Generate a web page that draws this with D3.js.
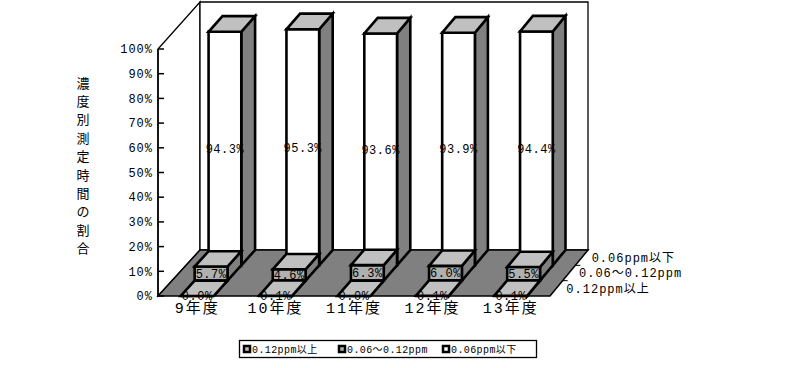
<!DOCTYPE html>
<html>
<head>
<meta charset="utf-8">
<script src="https://cdn.jsdelivr.net/npm/d3@7"></script>
<style>
  html, body { margin: 0; padding: 0; background: #fff; }
  text { font-family: "Liberation Mono", "Noto Sans CJK JP", monospace; fill: #000; }
</style>
</head>
<body>
<div id="chart"></div>
<script>
// ========== Data ==========
const categories = ["9年度", "10年度", "11年度", "12年度", "13年度"];
const seriesNames = ["0.12ppm以上", "0.06～0.12ppm", "0.06ppm以下"]; // front row -> back row
const over012 = [0.0, 0.1, 0.0, 0.1, 0.1];
const from006to012 = [5.7, 4.6, 6.3, 6.0, 5.5];
const under006 = [94.3, 95.3, 93.6, 93.9, 94.4];
const yTicks = [0, 10, 20, 30, 40, 50, 60, 70, 80, 90, 100];
const yTitle = "濃度別測定時間の割合";

const seriesValues = [over012, from006to012, under006];
const faceColors = [
  { front: "#c0c0c0", top: "#c0c0c0", side: "#808080", key: "#c0c0c0" },
  { front: "#b0b0b0", top: "#c0c0c0", side: "#808080", key: "#b0b0b0" },
  { front: "#ffffff", top: "#c0c0c0", side: "#808080", key: "#ffffff" },
];

// ========== Setup ==========
const width = 787;
const height = 368;

const svg = d3
  .select("#chart")
  .append("svg")
  .attr("width", width)
  .attr("height", height);

svg.append("rect").attr("width", width).attr("height", height).attr("fill", "#fff");

// unit position across categories, then projected front/back planes
const xUnit = d3.scaleBand().domain(categories).range([0, 1]).paddingInner(0.58).paddingOuter(0.29);
const xFront = d3.scaleLinear().domain([0, 1]).range([158, 550]);
const xBack = d3.scaleLinear().domain([0, 1]).range([200, 588]);
const yFront = d3.scaleLinear().domain([0, 100]).range([296, 49]);
const yBack = d3.scaleLinear().domain([0, 100]).range([250, 2]);
const zScale = d3.scaleBand().domain(seriesNames).range([0, 1]); // 0 = front, 1 = back

function proj(u, v, d) {
  return [
    xFront(u) + (xBack(u) - xFront(u)) * d,
    yFront(v) + (yBack(v) - yFront(v)) * d,
  ];
}
const poly = (pts) => "M" + pts.map((p) => p.join(",")).join("L") + "Z";

// ========== Walls & Floor ==========
svg
  .append("path")
  .attr("d", poly([proj(0, 0, 0), proj(0, 100, 0), proj(0, 100, 1), proj(0, 0, 1)]))
  .attr("fill", "#fff")
  .attr("stroke", "#000")
  .attr("stroke-width", 1.3);

svg
  .append("path")
  .attr("d", poly([proj(0, 0, 1), proj(0, 100, 1), proj(1, 100, 1), proj(1, 0, 1)]))
  .attr("fill", "#fff")
  .attr("stroke", "#000")
  .attr("stroke-width", 1.3);

svg
  .append("path")
  .attr("d", poly([proj(0, 0, 0), proj(1, 0, 0), proj(1, 0, 1), proj(0, 0, 1)]))
  .attr("fill", "#808080")
  .attr("stroke", "#000")
  .attr("stroke-width", 1.5);

// ========== Value axis ==========
const yAxis = svg.append("g");
yAxis
  .append("line")
  .attr("x1", xFront(0))
  .attr("x2", xFront(0))
  .attr("y1", yFront(0))
  .attr("y2", yFront(100))
  .attr("stroke", "#000")
  .attr("stroke-width", 1.5);

yAxis
  .selectAll(".tick")
  .data(yTicks)
  .enter()
  .append("line")
  .attr("x1", xFront(0))
  .attr("x2", xFront(0) + 6)
  .attr("y1", (d) => yFront(d))
  .attr("y2", (d) => yFront(d))
  .attr("stroke", "#000")
  .attr("stroke-width", 1.5);

yAxis
  .selectAll(".tick-label")
  .data(yTicks)
  .enter()
  .append("text")
  .attr("x", xFront(0) - 5)
  .attr("y", (d) => yFront(d))
  .attr("dy", "0.35em")
  .attr("text-anchor", "end")
  .attr("font-size", 12)
  .attr("letter-spacing", 1)
  .text((d) => d + "%");

// Axis title (vertical, one char per line)
svg
  .selectAll(".ytitle")
  .data(Array.from(yTitle))
  .enter()
  .append("text")
  .attr("x", 83)
  .attr("y", (d, i) => 83 + i * 18.4)
  .attr("dy", "0.35em")
  .attr("text-anchor", "middle")
  .attr("font-size", 13)
  .text((d) => d);

// ========== Depth axis ==========
const depthEdge = [1 / 3, 2 / 3];
svg
  .selectAll(".ztick")
  .data(depthEdge)
  .enter()
  .append("line")
  .attr("x1", (d) => proj(1, 0, d)[0])
  .attr("x2", (d) => proj(1, 0, d)[0] + 5)
  .attr("y1", (d) => proj(1, 0, d)[1])
  .attr("y2", (d) => proj(1, 0, d)[1])
  .attr("stroke", "#000")
  .attr("stroke-width", 1);

svg
  .selectAll(".zlabel")
  .data(seriesNames)
  .enter()
  .append("text")
  .attr("x", (d) => proj(1, 0, zScale(d) + zScale.bandwidth() / 2)[0] + 10)
  .attr("y", (d) => proj(1, 0, zScale(d) + zScale.bandwidth() / 2)[1])
  .attr("dy", "0.35em")
  .attr("font-size", 12)
  .attr("letter-spacing", 1)
  .text((d) => d);

// ========== Bars ==========
const bars = [];
seriesNames.forEach((s, si) => {
  categories.forEach((c, ci) => {
    bars.push({ series: s, si, cat: c, value: seriesValues[si][ci] });
  });
});
// back rows first
bars.sort((a, b) => b.si - a.si);

const barG = svg.append("g");
bars.forEach((b) => {
  const u0 = xUnit(b.cat);
  const u1 = u0 + xUnit.bandwidth();
  const d0 = zScale(b.series);
  const d1 = d0 + zScale.bandwidth();
  const v = b.value;
  const col = faceColors[b.si];
  const g = barG.append("g");
  const faces = [
    { pts: [proj(u1, 0, d0), proj(u1, 0, d1), proj(u1, v, d1), proj(u1, v, d0)], fill: col.side },
    { pts: [proj(u0, 0, d0), proj(u1, 0, d0), proj(u1, v, d0), proj(u0, v, d0)], fill: col.front },
    { pts: [proj(u0, v, d0), proj(u1, v, d0), proj(u1, v, d1), proj(u0, v, d1)], fill: col.top },
  ];
  g.selectAll("path")
    .data(faces)
    .enter()
    .append("path")
    .attr("d", (f) => poly(f.pts))
    .attr("fill", (f) => f.fill)
    .attr("stroke", "#000")
    .attr("stroke-width", 2.6)
    .attr("stroke-linejoin", "miter");

  const c = proj((u0 + u1) / 2, v / 2, d0);
  g.append("text")
    .attr("x", c[0])
    .attr("y", c[1])
    .attr("dy", "0.35em")
    .attr("text-anchor", "middle")
    .attr("font-size", 12)
    .attr("letter-spacing", 0.5)
    .attr("fill", "#000")
    .text(d3.format(".1f")(v) + "%");
});

// ========== Category labels ==========
svg
  .selectAll(".xlabel")
  .data(categories)
  .enter()
  .append("text")
  .attr("x", (d) => xFront(xUnit(d) + xUnit.bandwidth() / 2))
  .attr("y", yFront(0) + 12)
  .attr("dy", "0.35em")
  .attr("text-anchor", "middle")
  .attr("font-size", 15)
  .attr("letter-spacing", 2)
  .text((d) => d);

// ========== Legend ==========
const legend = svg.append("g");
legend
  .append("rect")
  .attr("x", 239.5)
  .attr("y", 340.5)
  .attr("width", 297)
  .attr("height", 17)
  .attr("fill", "#fff")
  .attr("stroke", "#000")
  .attr("stroke-width", 1.3);

const legendX = [243, 338, 442];
seriesNames.forEach((s, i) => {
  legend
    .append("rect")
    .attr("x", legendX[i] + 1)
    .attr("y", 346)
    .attr("width", 6)
    .attr("height", 6)
    .attr("fill", faceColors[i].key)
    .attr("stroke", "#000")
    .attr("stroke-width", 2.5);
  legend
    .append("text")
    .attr("x", legendX[i] + 9)
    .attr("y", 349.5)
    .attr("dy", "0.35em")
    .attr("font-size", 10)
    .attr("letter-spacing", 0.4)
    .text(s);
});
</script>
</body>
</html>
